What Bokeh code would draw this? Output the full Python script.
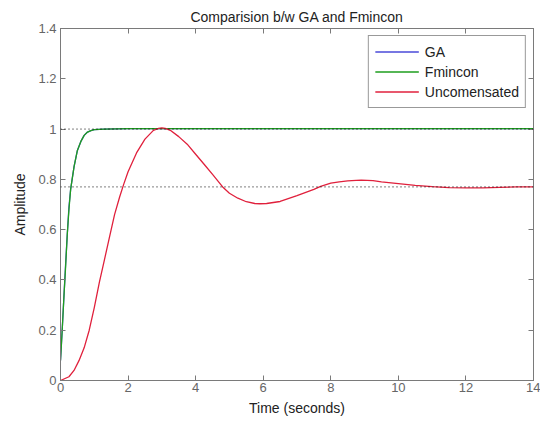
from bokeh.plotting import figure
from bokeh.models import Range1d, LinearAxis, FixedTicker, Legend, LegendItem, Span
from bokeh.embed import file_html
from bokeh.resources import INLINE

# Data
ga_t = [0, 0.05, 0.1, 0.15, 0.2, 0.25, 0.3, 0.4, 0.5, 0.6, 0.7, 0.8, 0.9, 1.0, 1.3, 2.0, 4.0, 8.0, 14.0]
ga_y = [0.08, 0.2, 0.33, 0.46, 0.58, 0.69, 0.76, 0.85, 0.915, 0.95, 0.975, 0.988, 0.994, 0.998, 1.0, 1.002, 1.002, 1.002, 1.002]

fm_t = [0, 0.05, 0.1, 0.15, 0.2, 0.25, 0.3, 0.4, 0.5, 0.6, 0.7, 0.8, 0.9, 1.0, 1.3, 2.0, 4.0, 8.0, 14.0]
fm_y = [0.08, 0.2, 0.33, 0.45, 0.58, 0.68, 0.76, 0.85, 0.915, 0.95, 0.975, 0.988, 0.994, 0.998, 1.0, 1.002, 1.002, 1.002, 1.002]

un_t = [0, 0.25, 0.4, 0.55, 0.7, 0.85, 1.0, 1.15, 1.3, 1.45, 1.6, 1.75, 1.87, 2.0, 2.25, 2.5, 2.75, 2.9, 3.0, 3.1, 3.25, 3.5, 3.75,
        4.0, 4.25, 4.5, 4.8, 5.0, 5.25, 5.5, 5.75, 5.9, 6.1, 6.5, 7.0, 7.5, 7.7, 8.0, 8.25, 8.5, 8.75, 8.9,
        9.25, 9.5, 10.0, 10.5, 11.0, 11.5, 12.0, 12.5, 13.0, 13.5, 14.0]
un_y = [0, 0.015, 0.04, 0.08, 0.13, 0.2, 0.29, 0.39, 0.48, 0.57, 0.66, 0.73, 0.78, 0.83, 0.905, 0.96, 0.995, 1.003, 1.005, 1.003, 0.995, 0.97, 0.94,
        0.90, 0.86, 0.82, 0.77, 0.745, 0.725, 0.711, 0.704, 0.703, 0.704, 0.712, 0.735, 0.76, 0.772, 0.785, 0.79, 0.794, 0.796, 0.797,
        0.795, 0.79, 0.783, 0.776, 0.771, 0.767, 0.766, 0.766, 0.768, 0.77, 0.77]

ref_levels = [1.0, 0.77]

x_ticks = [0, 2, 4, 6, 8, 10, 12, 14]
y_ticks = [0, 0.2, 0.4, 0.6, 0.8, 1.0, 1.2, 1.4]
y_labels = {0: "0", 0.2: "0.2", 0.4: "0.4", 0.6: "0.6", 0.8: "0.8", 1.0: "1", 1.2: "1.2", 1.4: "1.4"}

FONT = "Liberation Sans"
GRAY = "#666666"
AXC = "#7a7a7a"

p = figure(width=540, height=423, output_backend="svg", toolbar_location=None,
           x_range=Range1d(0, 14), y_range=Range1d(0, 1.4),
           min_border_left=60, min_border_right=7, min_border_top=28, min_border_bottom=43,
           title="Comparision b/w GA and Fmincon")
p.background_fill_color = "white"
p.border_fill_color = "white"
p.outline_line_color = AXC
p.outline_line_width = 1
p.grid.visible = False

p.title.text_font = FONT
p.title.text_font_size = "14px"
p.title.text_font_style = "normal"
p.title.text_color = "#222222"
p.title.align = "center"
p.title.offset = 0
p.title.standoff = 8

for ax in p.xaxis + p.yaxis:
    ax.major_tick_in = 5
    ax.major_tick_out = 0
    ax.minor_tick_line_color = None
    ax.axis_line_color = AXC
    ax.major_tick_line_color = AXC
    ax.major_label_text_font = FONT
    ax.major_label_text_font_size = "13px"
    ax.major_label_text_color = GRAY
    ax.axis_label_text_font = FONT
    ax.axis_label_text_font_size = "14px"
    ax.axis_label_text_font_style = "normal"
    ax.axis_label_text_color = "#222222"

p.xaxis.ticker = FixedTicker(ticks=x_ticks)
p.yaxis.ticker = FixedTicker(ticks=y_ticks)
p.yaxis.major_label_overrides = y_labels
p.xaxis.axis_label = "Time (seconds)"
p.yaxis.axis_label = "Amplitude"
p.xaxis.major_label_standoff = 2
p.yaxis.major_label_standoff = 4
p.xaxis.axis_label_standoff = 5
p.yaxis.axis_label_standoff = 7

top = LinearAxis(ticker=FixedTicker(ticks=x_ticks), major_label_text_color=None,
                 major_tick_in=5, major_tick_out=0, minor_tick_line_color=None,
                 axis_line_color=AXC, major_tick_line_color=AXC, major_label_standoff=0)
right = LinearAxis(ticker=FixedTicker(ticks=y_ticks), major_label_text_color=None,
                   major_tick_in=5, major_tick_out=0, minor_tick_line_color=None,
                   axis_line_color=AXC, major_tick_line_color=AXC, major_label_standoff=0)
p.add_layout(top, "above")
p.add_layout(right, "right")

for lvl in ref_levels:
    p.add_layout(Span(location=lvl, dimension="width", line_color="black",
                      line_dash="1 3", line_width=1))

r_ga = p.line(ga_t, ga_y, line_color="#4a4ad8", line_width=1.3)
r_fm = p.line(fm_t, fm_y, line_color="#1e9e1e", line_width=1.3)
r_un = p.line(un_t, un_y, line_color="#e0203c", line_width=1.3)

legend = Legend(items=[LegendItem(label="GA", renderers=[r_ga]),
                       LegendItem(label="Fmincon", renderers=[r_fm]),
                       LegendItem(label="Uncomensated", renderers=[r_un])],
                location="top_right")
legend.label_text_font = FONT
legend.label_text_font_size = "14px"
legend.label_text_color = "#222222"
legend.border_line_color = "#333333"
legend.border_line_width = 1
legend.glyph_width = 44
legend.glyph_height = 19
legend.label_height = 19
legend.spacing = 1
legend.padding = 6
legend.margin = 7
legend.label_standoff = 6
legend.background_fill_alpha = 1
p.add_layout(legend)

open("out.html", "w").write(file_html(p, INLINE))
